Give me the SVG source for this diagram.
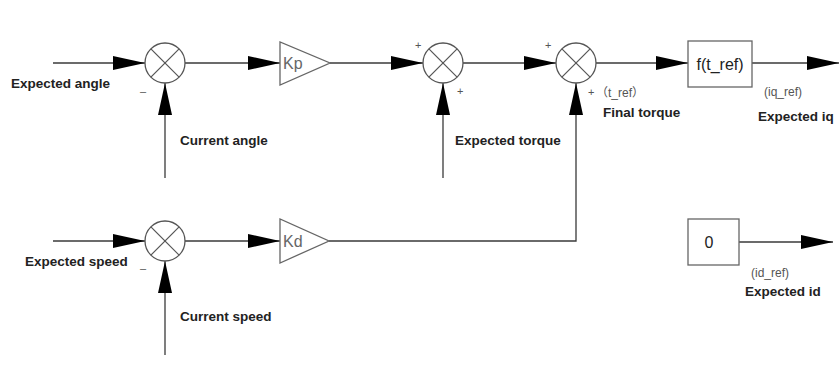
<svg xmlns="http://www.w3.org/2000/svg" width="840" height="365" viewBox="0 0 840 365">
<style>
.ln{stroke:#3a3a3a;stroke-width:1.3;fill:none}
.arr{stroke:#3a3a3a;stroke-width:1.3;fill:none;marker-end:url(#ah)}
.sj circle{fill:#fff;stroke:#555;stroke-width:1.3}
.sj line{stroke:#555;stroke-width:1.2}
.blk{fill:#fff;stroke:#666;stroke-width:1.3}
.gain{font-family:"Liberation Sans",Arial,sans-serif;font-size:16px;fill:#666}
.lbl{font-family:"Liberation Sans",Arial,sans-serif;font-size:13.5px;font-weight:bold;fill:#222}
.sm{font-family:"Liberation Sans","Noto Sans CJK SC",Arial,sans-serif;font-size:12px;fill:#555}
.sg{font-family:"Liberation Sans",Arial,sans-serif;font-size:11px;fill:#555}
.bt{font-family:"Liberation Sans",Arial,sans-serif;font-size:16px;fill:#222}
</style>
<defs>
<marker id="ah" markerUnits="userSpaceOnUse" markerWidth="33" markerHeight="14" refX="32" refY="7" orient="auto">
<path d="M0,0 L32,7 L0,14 z" fill="#000"/>
</marker>
</defs>
<rect width="840" height="365" fill="#fff"/>

<g id="connectors">
<line class="arr" x1="53" y1="63" x2="145" y2="63"/>
<line class="arr" x1="165" y1="178" x2="165" y2="83"/>
<line class="arr" x1="185" y1="63" x2="280" y2="63"/>
<line class="arr" x1="330" y1="63" x2="423" y2="63"/>
<line class="arr" x1="443" y1="178" x2="443" y2="83"/>
<line class="arr" x1="463" y1="63" x2="556" y2="63"/>
<polyline class="arr" points="329,241 576,241 576,83"/>
<line class="arr" x1="596" y1="63" x2="688" y2="63"/>
<line class="arr" x1="752" y1="63" x2="839" y2="63"/>
<line class="arr" x1="53" y1="241" x2="145" y2="241"/>
<line class="arr" x1="165" y1="355" x2="165" y2="261"/>
<line class="arr" x1="185" y1="241" x2="280" y2="241"/>
<line class="arr" x1="739" y1="242" x2="833" y2="242"/>
</g>

<g id="sum1" class="sj">
<circle cx="165" cy="63" r="20"/>
<line x1="150.9" y1="48.9" x2="179.1" y2="77.1"/>
<line x1="179.1" y1="48.9" x2="150.9" y2="77.1"/>
<text class="sg" x="140" y="95">–</text>
</g>
<g id="kp">
<polygon class="blk" points="280,42 280,85 330,63"/>
<text class="gain" x="283" y="69">Kp</text>
</g>
<g id="sum2" class="sj">
<circle cx="443" cy="63" r="20"/>
<line x1="428.9" y1="48.9" x2="457.1" y2="77.1"/>
<line x1="457.1" y1="48.9" x2="428.9" y2="77.1"/>
<text class="sg" x="415" y="49">+</text>
<text class="sg" x="457" y="95">+</text>
</g>
<g id="sum3" class="sj">
<circle cx="576" cy="63" r="20"/>
<line x1="561.9" y1="48.9" x2="590.1" y2="77.1"/>
<line x1="590.1" y1="48.9" x2="561.9" y2="77.1"/>
<text class="sg" x="545" y="49">+</text>
<text class="sg" x="588" y="96">+</text>
</g>
<g id="fbox">
<rect class="blk" x="688" y="41" width="64" height="46"/>
<text class="bt" x="720" y="70" text-anchor="middle">f(t_ref)</text>
</g>
<g id="sum4" class="sj">
<circle cx="165" cy="241" r="20"/>
<line x1="150.9" y1="226.9" x2="179.1" y2="255.1"/>
<line x1="179.1" y1="226.9" x2="150.9" y2="255.1"/>
<text class="sg" x="140" y="272">–</text>
</g>
<g id="kd">
<polygon class="blk" points="280,219 280,263 329,241"/>
<text class="gain" x="283" y="247">Kd</text>
</g>
<g id="zbox">
<rect class="blk" x="688" y="219" width="51" height="46"/>
<text class="bt" x="709" y="248" text-anchor="middle" font-size="15">0</text>
</g>

<g id="labels">
<text class="lbl" x="11" y="88">Expected angle</text>
<text class="lbl" x="180" y="145">Current angle</text>
<text class="lbl" x="455" y="145">Expected torque</text>
<text class="sm" x="596" y="97">（t_ref）</text>
<text class="lbl" x="603" y="117">Final torque</text>
<text class="sm" x="764" y="96">(iq_ref)</text>
<text class="lbl" x="758" y="121">Expected iq</text>
<text class="lbl" x="25" y="266">Expected speed</text>
<text class="lbl" x="180" y="321">Current speed</text>
<text class="sm" x="751" y="277">(id_ref)</text>
<text class="lbl" x="745" y="296">Expected id</text>
</g>
</svg>
